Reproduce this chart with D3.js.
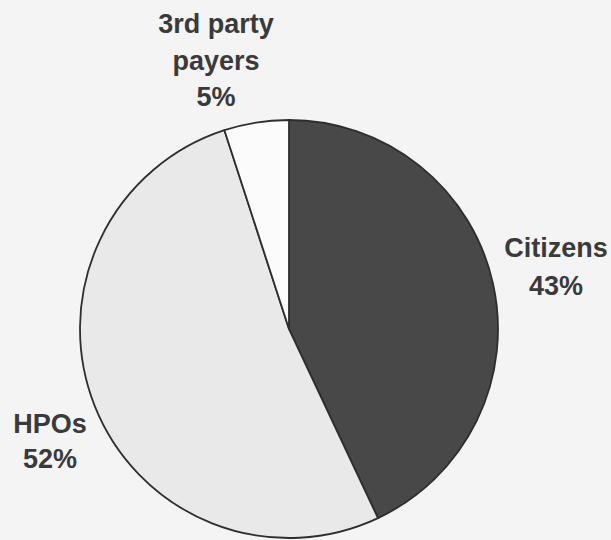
<!DOCTYPE html>
<html><head><meta charset="utf-8">
<script src="https://cdn.jsdelivr.net/npm/d3@7"></script>
<style>html,body{margin:0;padding:0;background:#f4f4f4;}</style>
</head><body>
<svg id="c" width="611" height="540"></svg>
<script>
const categories = ["Citizens", "HPOs", "3rd party payers"];
const values = [43, 52, 5];
const labelLines = [["Citizens", "43%"], ["HPOs", "52%"], ["3rd party", "payers", "5%"]];
const colors = ["#484848", "#e9e9e9", "#fbfbfb"];

const svg = d3.select("#c");
const cx = 289, cy = 329, r = 209;
const data = categories.map((c, i) => ({name: c, value: values[i], lines: labelLines[i], color: colors[i]}));
const pie = d3.pie().value(d => d.value).sort(null);
const arc = d3.arc().innerRadius(0).outerRadius(r);
const g = svg.append("g").attr("transform", `translate(${cx},${cy})`);
g.selectAll("path").data(pie(data)).join("path")
  .attr("d", arc).attr("fill", d => d.data.color)
  .attr("stroke", "#2e2e2e").attr("stroke-width", 1.8).attr("stroke-linejoin", "round");

// label anchors (text block position, absolute)
const labelAnchor = [{x: 556, y: 257, lh: 38}, {x: 50, y: 433, lh: 35}, {x: 216, y: 33, lh: 36.5}];
data.forEach((d, i) => {
  const a = labelAnchor[i];
  const t = svg.append("text").attr("text-anchor", "middle")
    .attr("font-family", "'Liberation Sans', Arial, sans-serif").attr("font-weight", "bold")
    .attr("font-size", 27).attr("fill", "#3a3a3a");
  d.lines.forEach((ln, j) => {
    t.append("tspan").attr("x", a.x).attr("y", a.y + j * a.lh).text(ln);
  });
});
</script>
</body></html>
